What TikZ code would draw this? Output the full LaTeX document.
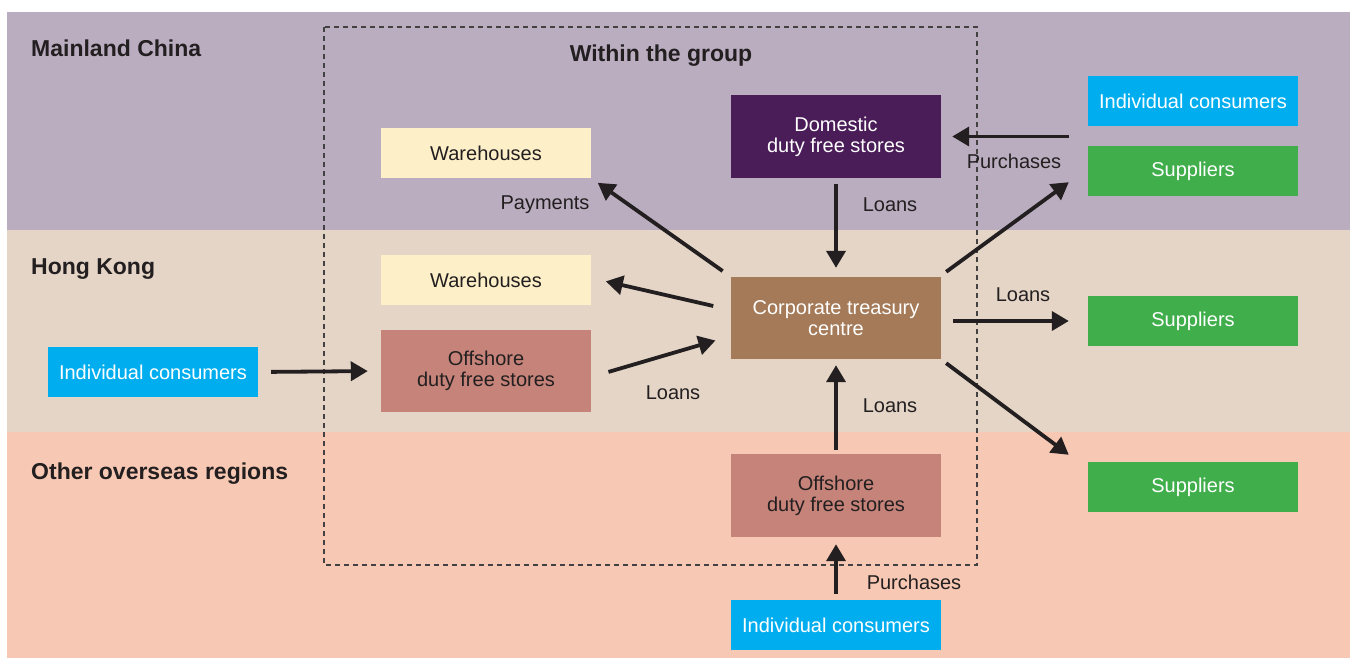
\documentclass[tikz,border=0pt]{standalone}
\usepackage{fontspec}
\setmainfont{Liberation Sans}
\usetikzlibrary{arrows.meta,calc}
\definecolor{bandA}{HTML}{BAADC0}
\definecolor{bandB}{HTML}{E4D5C6}
\definecolor{bandC}{HTML}{F7C8B3}
\definecolor{cream}{HTML}{FDF0C8}
\definecolor{domc}{HTML}{4A1C58}
\definecolor{ctcc}{HTML}{A47A58}
\definecolor{offc}{HTML}{C58379}
\definecolor{indc}{HTML}{00AEEF}
\definecolor{supc}{HTML}{3FAE4B}
\definecolor{ink}{HTML}{231F20}
\begin{document}
\begin{tikzpicture}[x=1pt,y=-1pt,
  box/.style={inner sep=0pt, align=center, minimum width=210pt, font=\fontsize{20}{21}\selectfont},
  sbox/.style={box, minimum height=50pt},
  tbox/.style={box, minimum height=83pt},
  lbl/.style={text=ink, inner sep=0pt, font=\fontsize{20}{21}\selectfont},
  region/.style={text=ink, inner sep=0pt, anchor=base west, font=\fontsize{23}{25}\selectfont\bfseries},
  arr/.style={draw=ink, line width=3.8pt, -{Triangle[length=17pt,width=19pt]}}
]
\useasboundingbox (0,0) rectangle (1357,660);
\fill[white] (0,0) rectangle (1357,660);
\fill[bandA] (7,12) rectangle (1350,230);
\fill[bandB] (7,230) rectangle (1350,432);
\fill[bandC] (7,432) rectangle (1350,658);
\draw[ink!85, line width=1.2pt, dash pattern=on 5pt off 4pt] (324,27) rectangle (977,565);

\node[region] (rA) at (31,57) {Mainland China};
\node[region] (rB) at (31,275) {Hong Kong};
\node[region] (rC) at (31,479) {Other overseas regions};
\node[region, anchor=base] (grp) at (661,62) {Within the group};

\node[sbox, fill=cream, text=ink] (wh1) at (486,153) {Warehouses};
\node[sbox, fill=cream, text=ink] (wh2) at (486,280) {Warehouses};
\node[tbox, minimum height=82pt, fill=offc, text=ink] (off1) at (486,371) {Offshore\\duty free stores};
\node[tbox, fill=domc, text=white] (dom) at (836,136.5) {Domestic\\duty free stores};
\node[tbox, minimum height=82pt, fill=ctcc, text=white] (ctc) at (836,318) {Corporate treasury\\centre};
\node[tbox, fill=offc, text=ink] (off2) at (836,495.5) {Offshore\\duty free stores};
\node[sbox, fill=indc, text=white] (indB) at (836,625) {Individual consumers};
\node[sbox, fill=indc, text=white] (indR) at (1193,101) {Individual consumers};
\node[sbox, fill=supc, text=white] (sup1) at (1193,171) {Suppliers};
\node[sbox, fill=supc, text=white] (sup2) at (1193,321) {Suppliers};
\node[sbox, fill=supc, text=white] (sup3) at (1193,487) {Suppliers};
\node[sbox, fill=indc, text=white] (indL) at (153,372) {Individual consumers};

\draw[arr, shorten <=19pt, shorten >=11pt] (dom.east -| indR.west) -- (dom.east);
\draw[arr, shorten <=6pt, shorten >=9pt] (dom.south) -- (ctc.north);
\draw[arr, shorten <=10pt, shorten >=8pt] (ctc.north west) -- (wh1.south east);
\draw[arr, shorten <=18pt, shorten >=15pt] ($(ctc.west)+(0,-8)$) -- ($(wh2.east)+(0,-2)$);
\draw[arr, shorten <=18pt, shorten >=16pt] ($(off1.east)+(0,6)$) -- ($(ctc.west)+(0,18)$);
\draw[arr] ($(ctc.north east)+(5,-5)$) -- ($(sup1.south west)+(-19,-14)$);
\draw[arr, shorten <=12pt, shorten >=19pt] (ctc.east |- sup2.west) -- (sup2.west);
\draw[arr] ($(ctc.south east)+(5,4)$) -- ($(sup3.north west)+(-19,-7)$);
\draw[arr, shorten <=4pt, shorten >=6pt] (off2.north) -- (ctc.south);
\draw[arr, shorten <=6pt, shorten >=7pt] (indB.north) -- (off2.south);
\draw[arr, shorten <=13pt, shorten >=13pt] (indL.east) -- (off1.west);

\node[lbl] (l1) at (545,205) {Payments};
\node[lbl] (l2) at (890,205) {Loans};
\node[lbl] (l3) at (1014,161) {Purchases};
\node[lbl] (l4) at (1023,295) {Loans};
\node[lbl] (l5) at (673,393) {Loans};
\node[lbl] (l6) at (890,406) {Loans};
\node[lbl] (l7) at (914,582) {Purchases};
\end{tikzpicture}
\end{document}
